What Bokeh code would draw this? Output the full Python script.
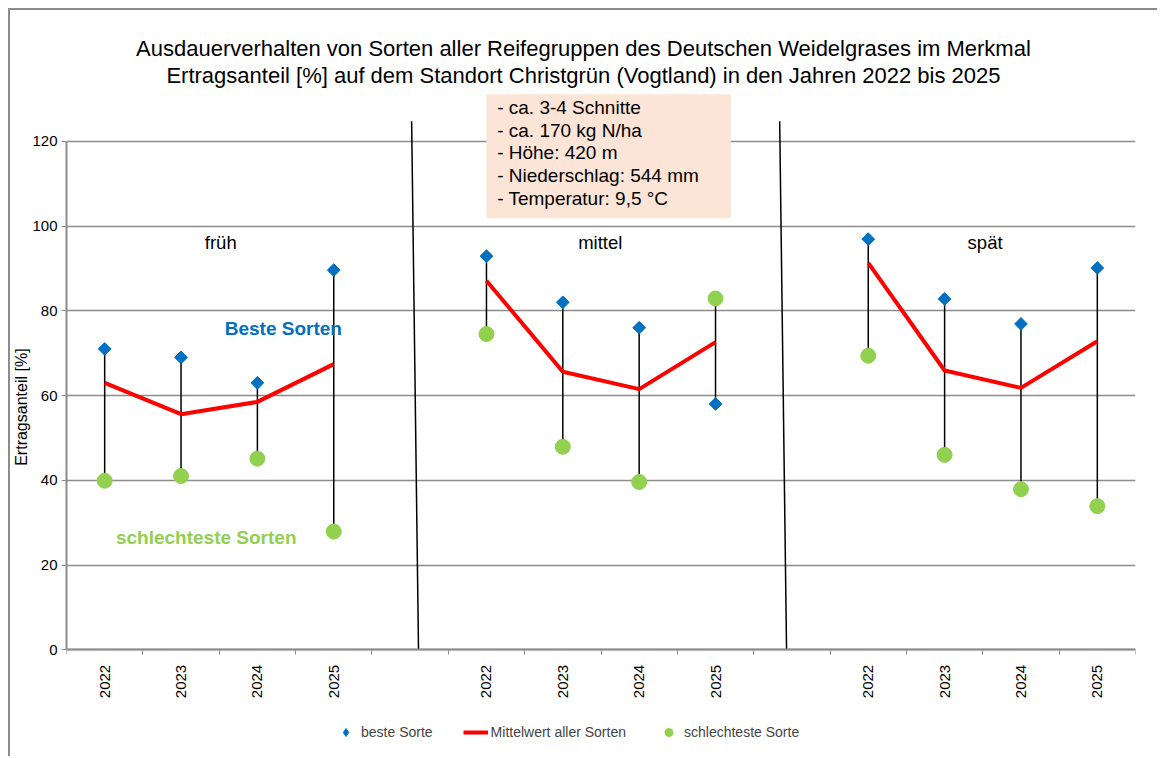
import numpy as np
from bokeh.plotting import figure
from bokeh.models import (Range1d, FixedTicker, Label, BoxAnnotation, Legend,
                          LegendItem, ColumnDataSource, Title)
from bokeh.embed import file_html
from bokeh.resources import INLINE

# ---------------- data ----------------
gruppen = ["früh", "mittel", "spät"]
jahre = ["2022", "2023", "2024", "2025"]

beste_frueh = [71.0, 69.0, 63.0, 89.6]
beste_mittel = [92.9, 82.0, 76.0, 58.0]
beste_spaet = [96.9, 82.8, 76.9, 90.1]

mittelwert_frueh = [63.0, 55.6, 58.5, 67.4]
mittelwert_mittel = [87.1, 65.6, 61.5, 72.6]
mittelwert_spaet = [91.3, 65.9, 61.8, 72.8]

schlecht_frueh = [39.9, 41.0, 45.1, 27.9]
schlecht_mittel = [74.5, 47.9, 39.6, 82.9]
schlecht_spaet = [69.4, 46.0, 37.9, 33.9]

y_ticks = [0, 20, 40, 60, 80, 100, 120]

title_lines = ["Ausdauerverhalten von Sorten aller Reifegruppen des Deutschen Weidelgrases im Merkmal",
               "Ertragsanteil [%] auf dem Standort Christgrün (Vogtland) in den Jahren 2022 bis 2025"]
info_lines = ["- ca. 3-4 Schnitte", "- ca. 170 kg N/ha", "- Höhe: 420 m",
              "- Niederschlag: 544 mm", "- Temperatur: 9,5 °C"]

beste = [beste_frueh, beste_mittel, beste_spaet]
mittelwerte = [mittelwert_frueh, mittelwert_mittel, mittelwert_spaet]
schlecht = [schlecht_frueh, schlecht_mittel, schlecht_spaet]

# ---------------- positions on category slots ----------------
slot_w = len(jahre) + 1
n_slots = len(gruppen) * slot_w - 1
xs, yb, ys = [], [], []
line_x, line_y = [], []
tick_pos, tick_lab = [], []
for gi, g in enumerate(gruppen):
    for j, jahr in enumerate(jahre):
        x = gi * slot_w + j + 0.5
        xs.append(x)
        yb.append(beste[gi][j])
        ys.append(schlecht[gi][j])
        line_x.append(x)
        line_y.append(mittelwerte[gi][j])
        tick_pos.append(x)
        tick_lab.append(jahr)
    if gi < len(gruppen) - 1:
        line_x.append(np.nan)
        line_y.append(np.nan)

src = ColumnDataSource(dict(x=xs, beste=yb, schlecht=ys))

FONT = "Liberation Sans"
GRID = "#8c8c8c"
BLUE = "#0070c0"
GREEN = "#92d050"
PX = 4.238          # pixels per percent
Y0 = 649.3          # page y of value 0
FRAME_TOP = 10
FRAME_BOTTOM = 756

p = figure(frame_width=1069, frame_height=FRAME_BOTTOM - FRAME_TOP, output_backend="svg",
           toolbar_location=None, x_range=Range1d(0, n_slots),
           y_range=Range1d(-(FRAME_BOTTOM - Y0) / PX, (Y0 - FRAME_TOP) / PX),
           min_border_left=56, min_border_right=22, min_border_top=0,
           min_border_bottom=0)
p.outline_line_color = None
p.background_fill_color = "white"
p.border_fill_color = "white"
p.styles = {"border-top": "2px solid #8c8c8c", "border-left": "2px solid #8c8c8c",
            "margin-left": "8px", "margin-top": "8px"}

# axes
p.xaxis.fixed_location = 0
p.xaxis.ticker = FixedTicker(ticks=tick_pos, minor_ticks=list(range(0, n_slots + 1)))
p.xaxis.major_label_overrides = {t: l for t, l in zip(tick_pos, tick_lab)}
p.xaxis.major_label_orientation = np.pi / 2
p.xaxis.major_tick_out = 0
p.xaxis.major_tick_in = 0
p.xaxis.minor_tick_out = 5
p.xaxis.minor_tick_in = 0
p.xaxis.minor_tick_line_color = GRID
p.xaxis.axis_line_color = GRID
p.xaxis.axis_line_width = 2
p.xaxis.major_label_standoff = 10
p.xaxis.major_label_text_font = FONT
p.xaxis.major_label_text_font_size = "15px"
p.xaxis.major_label_text_color = "black"

p.yaxis.ticker = FixedTicker(ticks=y_ticks, minor_ticks=[])
p.yaxis.bounds = (0, 120)
p.yaxis.major_tick_out = 5
p.yaxis.major_tick_in = 0
p.yaxis.major_tick_line_color = GRID
p.yaxis.axis_line_color = GRID
p.yaxis.axis_line_width = 2
p.yaxis.major_label_standoff = 4
p.yaxis.major_label_text_font = FONT
p.yaxis.major_label_text_font_size = "15px"
p.yaxis.major_label_text_color = "black"

p.xgrid.grid_line_color = None
p.ygrid.grid_line_color = GRID
p.ygrid.grid_line_width = 1.5

# y axis title
p.add_layout(Title(text="Ertragsanteil [%]", align="left",
                   offset=184 + (FRAME_BOTTOM - Y0),
                   text_font=FONT, text_font_size="16px", text_font_style="normal",
                   text_color="black", standoff=0), "left")

# separators between maturity groups
p.segment(x0=[4.52, 9.34], y0=[124.7, 124.7], x1=[4.61, 9.43], y1=[0, 0],
          line_color="black", line_width=1.5)

# high-low lines
p.segment(x0="x", y0="beste", x1="x", y1="schlecht", source=src,
          line_color="black", line_width=1.5)

r_line = p.line(line_x, line_y, line_color="#ff0000", line_width=4)
p.scatter("x", "beste", source=src, marker="square", angle=np.pi / 4,
          size=9, fill_color=BLUE, line_color=BLUE)
r_worst = p.scatter("x", "schlecht", source=src, marker="circle", size=15,
                    fill_color=GREEN, line_color=GREEN)
# legend-only glyphs (no visible points)
r_best_leg = p.scatter(x=[np.nan], y=[np.nan], marker="diamond", size=11,
                       fill_color=BLUE, line_color=BLUE)
r_worst_leg = p.scatter(x=[np.nan], y=[np.nan], marker="circle", size=9,
                        fill_color=GREEN, line_color=GREEN)

# info box
p.add_layout(BoxAnnotation(left=5.50, right=8.70, bottom=101.8, top=131.1,
                           fill_color="#fce4d6", fill_alpha=1.0, line_color=None))
for i, t in enumerate(info_lines):
    p.add_layout(Label(x=5.64, y=(Y0 - (107 + i * 22.7)) / PX, text=t,
                       text_font=FONT, text_font_size="19px", text_baseline="middle",
                       text_align="left", text_color="black"))

# title
for i, t in enumerate(title_lines):
    p.add_layout(Label(x=6.77, y=(Y0 - (48 + i * 27)) / PX, text=t,
                       text_font=FONT, text_font_size="22px", text_baseline="middle",
                       text_align="center", text_color="black"))

# group labels
for g, gx in zip(gruppen, [2.02, 6.99, 12.03]):
    p.add_layout(Label(x=gx, y=96.0, text=g, text_font=FONT, text_font_size="18.5px",
                       text_baseline="middle", text_align="center", text_color="black"))

p.add_layout(Label(x=2.84, y=75.7, text="Beste Sorten", text_font=FONT,
                   text_font_size="19px", text_font_style="bold", text_color=BLUE,
                   text_baseline="middle", text_align="center"))
p.add_layout(Label(x=1.83, y=26.4, text="schlechteste Sorten", text_font=FONT,
                   text_font_size="19px", text_font_style="bold", text_color=GREEN,
                   text_baseline="middle", text_align="center"))

legend = Legend(items=[LegendItem(label="beste Sorte", renderers=[r_best_leg]),
                       LegendItem(label="Mittelwert aller Sorten", renderers=[r_line]),
                       LegendItem(label="schlechteste Sorte", renderers=[r_worst_leg])],
                orientation="horizontal", location=(262, 9),
                label_text_font=FONT, label_text_font_size="14px",
                glyph_width=25, label_standoff=3, spacing=30,
                border_line_alpha=0, background_fill_alpha=0,
                margin=0, padding=5)
p.add_layout(legend, "center")

open("out.html", "w").write(file_html(p, INLINE))
